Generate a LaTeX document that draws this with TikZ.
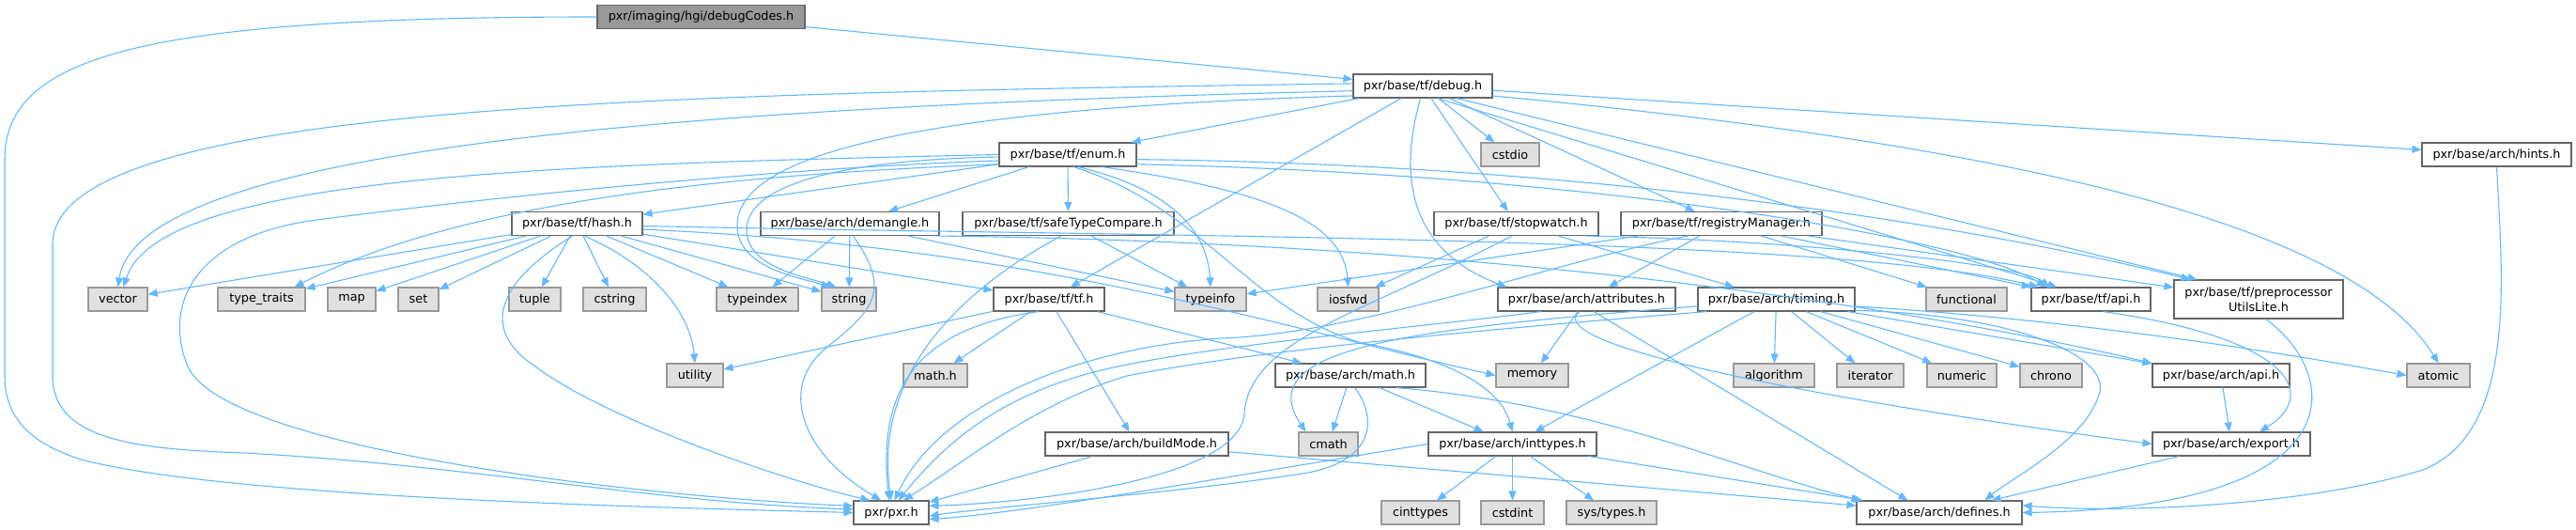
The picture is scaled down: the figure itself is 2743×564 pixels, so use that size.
\documentclass[tikz,border=0pt]{standalone}
\usepackage{fontspec}
\setmainfont{DejaVu Sans}
\usetikzlibrary{arrows.meta,calc}
\definecolor{edgec}{HTML}{63B8FF}
\definecolor{bordc}{HTML}{666666}
\definecolor{extb}{HTML}{999999}
\definecolor{extf}{HTML}{E0E0E0}
\definecolor{rootf}{HTML}{999999}
\newcommand\dxfont{\fontsize{12.8pt}{15.5pt}\selectfont}
\tikzset{
  box/.style={draw=bordc, fill=white, line width=1.1pt, minimum height=25pt, inner xsep=1pt, inner ysep=0pt, font=\dxfont, text=black},
  ext/.style={box, draw=extb, fill=extf},
  rootbox/.style={box, fill=rootf, draw=bordc},
  e/.style={draw=edgec, line width=1.1pt, -{Triangle[length=10pt,width=8pt,fill=edgec]}}
}
\begin{document}
\begin{tikzpicture}[x=1pt,y=-1pt]
\useasboundingbox (0,0) rectangle (2743,564);
% row 0
\node[rootbox, minimum width=221pt] (dc) at (746.5,18) {pxr/imaging/hgi/debugCodes.h};
% row 1
\node[box, minimum width=148pt] (debug) at (1515,91.5) {pxr/base/tf/debug.h};
% row 2
\node[box, minimum width=146pt] (enum) at (1137,164.5) {pxr/base/tf/enum.h};
\node[ext, minimum width=62pt] (cstdio) at (1608,164.5) {cstdio};
\node[box, minimum width=159pt] (hints) at (2658.5,164.5) {pxr/base/arch/hints.h};
% row 3
\node[box, minimum width=139pt] (hash) at (614.5,238) {pxr/base/tf/hash.h};
\node[box, minimum width=190pt] (demangle) at (905,238) {pxr/base/arch/demangle.h};
\node[box, minimum width=225pt] (safeType) at (1137.5,238) {pxr/base/tf/safeTypeCompare.h};
\node[box, minimum width=175pt] (stopwatch) at (1614.5,238) {pxr/base/tf/stopwatch.h};
\node[box, minimum width=214pt] (registry) at (1833,238) {pxr/base/tf/registryManager.h};
% row 4
\node[ext, minimum width=63pt] (vector) at (125.5,318.5) {vector};
\node[ext, minimum width=93pt] (typetraits) at (278.5,318.5) {type\_traits};
\node[ext, minimum width=51pt] (map) at (374.5,318.5) {map};
\node[ext, minimum width=43pt] (set) at (445.5,318.5) {set};
\node[ext, minimum width=55pt] (tuple) at (569.5,318.5) {tuple};
\node[ext, minimum width=67pt] (cstring) at (654.5,318.5) {cstring};
\node[ext, minimum width=87pt] (typeindex) at (806.5,318.5) {typeindex};
\node[ext, minimum width=58pt] (string) at (904,318.5) {string};
\node[box, minimum width=118pt] (tf) at (1117,318.5) {pxr/base/tf/tf.h};
\node[ext, minimum width=76pt] (typeinfo) at (1289,318.5) {typeinfo};
\node[ext, minimum width=65pt] (iosfwd) at (1435.5,318.5) {iosfwd};
\node[box, minimum width=189pt] (attributes) at (1689.5,318.5) {pxr/base/arch/attributes.h};
\node[box, minimum width=167pt] (timing) at (1891.5,318.5) {pxr/base/arch/timing.h};
\node[ext, minimum width=86pt] (functional) at (2094,318.5) {functional};
\node[box, minimum width=127pt] (tfapi) at (2226.5,318.5) {pxr/base/tf/api.h};
\node[box, minimum width=180pt, minimum height=41pt, align=center] (preproc) at (2405,318.5) {pxr/base/tf/preprocessor\\UtilsLite.h};
% row 5
\node[ext, minimum width=60pt] (utility) at (740,399.5) {utility};
\node[ext, minimum width=68pt] (mathh) at (996,399.5) {math.h};
\node[box, minimum width=160pt] (archmath) at (1438,399.5) {pxr/base/arch/math.h};
\node[ext, minimum width=77pt] (memory) at (1631.5,399.5) {memory};
\node[ext, minimum width=86pt] (algorithm) at (1889,399.5) {algorithm};
\node[ext, minimum width=71pt] (iterator) at (1991.5,399.5) {iterator};
\node[ext, minimum width=74pt] (numeric) at (2089,399.5) {numeric};
\node[ext, minimum width=66pt] (chrono) at (2184,399.5) {chrono};
\node[box, minimum width=146pt] (archapi) at (2365,399.5) {pxr/base/arch/api.h};
\node[ext, minimum width=67pt] (atomic) at (2596.5,399.5) {atomic};
% row 6
\node[box, minimum width=195pt] (buildMode) at (1210.5,472.5) {pxr/base/arch/buildMode.h};
\node[ext, minimum width=63pt] (cmath) at (1414.5,472.5) {cmath};
\node[box, minimum width=179pt] (inttypes) at (1610.5,472.5) {pxr/base/arch/inttypes.h};
\node[box, minimum width=168pt] (export) at (2376,472.5) {pxr/base/arch/export.h};
% row 7
\node[box, minimum width=80pt] (pxr) at (949,545.5) {pxr/pxr.h};
\node[ext, minimum width=83pt] (cinttypes) at (1512.5,545.5) {cinttypes};
\node[ext, minimum width=67pt] (cstdint) at (1610.5,545.5) {cstdint};
\node[ext, minimum width=96pt] (systypes) at (1716,545.5) {sys/types.h};
\node[box, minimum width=176pt] (defines) at (2065,545.5) {pxr/base/arch/defines.h};

% ---- edges: debugCodes
\draw[e] (dc) -- (debug);
\draw[e] (dc.west) .. controls (150,18) and (5,60) .. (5,170) -- (5,400) .. controls (5,450) and (40,475) .. (90,490) .. controls (250,530) and (700,540) .. (pxr.180);
% ---- debug
\draw[e] (debug.178) .. controls (700,100) and (56,110) .. (56,260) -- (56,400) .. controls (56,470) and (150,478) .. (260,482) .. controls (500,495) and (700,535) .. (pxr.175);
\draw[e] (debug.184) .. controls (800,112) and (150,150) .. (vector.north);
\draw[e] (debug.188) .. controls (1000,115) and (785,160) .. (785,240) .. controls (785,285) and (850,295) .. ($(string.north west)+(10,0)$);
\draw[e] (debug) -- (enum);
\draw[e] (debug) -- (tf);
\draw[e] (debug) -- (cstdio);
\draw[e] (debug) -- (stopwatch);
\draw[e] (debug) -- (registry);
\draw[e] (debug.-100) .. controls (1485,200) and (1510,270) .. ($(attributes.north west)+(10,0)$);
\draw[e] (debug.-8) .. controls (2100,150) and (2500,230) .. (atomic.north);
\draw[e] (debug) -- (hints);
\draw[e] (debug.-20) -- ($(preproc.north west)+(25,0)$);
\draw[e] (debug.-40) -- ($(tfapi.north west)+(28,0)$);
% ---- enum
\draw[e] (enum) -- (hash);
\draw[e] (enum) -- (demangle);
\draw[e] (enum) -- (safeType);
\draw[e] (enum.-50) .. controls (1240,200) and (1285,240) .. (typeinfo.north);
\draw[e] (enum.-20) .. controls (1330,200) and (1430,230) .. (iosfwd.north);
\draw[e] (enum.-65) .. controls (1280,220) and (1330,330) .. (1450,365) .. controls (1560,385) and (1600,420) .. (inttypes.north);
\draw[e] (enum.180) .. controls (600,175) and (170,185) .. ($(vector.north)+(6,0)$);
\draw[e] (enum.188) .. controls (800,185) and (500,210) .. ($(typetraits.north east)+(-12,0)$);
\draw[e] (enum.185) .. controls (800,180) and (480,215) .. (330,235) .. controls (200,255) and (175,330) .. (200,390) .. controls (240,480) and (700,530) .. (pxr.170);
\draw[e] (enum.182) .. controls (900,170) and (795,195) .. (795,245) .. controls (795,285) and (860,295) .. ($(string.north west)+(16,0)$);
\draw[e] (enum.-4) .. controls (1700,175) and (2100,240) .. ($(preproc.north west)+(18,0)$);
\draw[e] (enum.-8) .. controls (1700,185) and (2100,255) .. ($(tfapi.north west)+(16,0)$);
% ---- hash
\draw[e] (hash) -- (vector);
\draw[e] (hash) -- (typetraits);
\draw[e] (hash) -- (map);
\draw[e] (hash) -- (set);
\draw[e] (hash) -- (tuple);
\draw[e] (hash) -- (cstring);
\draw[e] (hash) -- (typeindex);
\draw[e] (hash) -- (string);
\draw[e] (hash) -- (tf);
\draw[e] (hash.-60) .. controls (690,280) and (735,330) .. (utility.north);
\draw[e] (hash.-110) .. controls (530,300) and (510,350) .. (570,390) .. controls (650,450) and (850,515) .. (pxr.150);
\draw[e] (hash.-5) .. controls (1100,262) and (1350,345) .. (memory.west);
\draw[e] (hash.-2) .. controls (1200,252) and (1950,250) .. ($(tfapi.north west)+(8,0)$);
% ---- demangle
\draw[e] (demangle) -- (typeindex);
\draw[e] (demangle) -- (string);
\draw[e] (demangle) -- (typeinfo);
\draw[e] (demangle.-75) .. controls (950,310) and (930,330) .. (880,370) .. controls (830,410) and (850,480) .. (pxr.130);
\draw[e] (demangle.-8) .. controls (1600,258) and (2050,330) .. (archapi.north west);
% ---- safeTypeCompare
\draw[e] (safeType) -- (typeinfo);
\draw[e] (safeType.-120) .. controls (1020,310) and (930,400) .. (pxr.north);
% ---- tf
\draw[e] (tf) -- (utility);
\draw[e] (tf) -- (mathh);
\draw[e] (tf) -- (buildMode);
\draw[e] (tf) -- (archmath);
\draw[e] (tf.-130) .. controls (970,350) and (935,420) .. (pxr.100);
% ---- stopwatch
\draw[e] (stopwatch) -- (iosfwd);
\draw[e] (stopwatch) -- (timing);
\draw[e] (stopwatch.-10) .. controls (1900,255) and (2150,280) .. ($(tfapi.north west)+(20,0)$);
\draw[e] (stopwatch.-110) .. controls (1460,330) and (1330,360) .. (1325,440) .. controls (1320,510) and (1100,535) .. (pxr.10);
% ---- registryManager
\draw[e] (registry) -- (typeinfo);
\draw[e] (registry) -- (attributes);
\draw[e] (registry) -- (functional);
\draw[e] (registry) -- (tfapi);
\draw[e] (registry) -- (preproc);
\draw[e] (registry.-160) .. controls (1650,280) and (1450,355) .. (1300,360) .. controls (1150,370) and (1000,430) .. (pxr.75);
% ---- attributes
\draw[e] (attributes) -- (memory);
\draw[e] (attributes.-60) -- ($(defines.north west)+(55,0)$);
\draw[e] (attributes.-120) .. controls (1640,365) and (1900,420) .. (export.west);
\draw[e] (attributes.-165) .. controls (1500,350) and (1250,370) .. (1150,400) .. controls (1050,430) and (1000,480) .. (pxr.60);
% ---- timing
\draw[e] (timing) -- (inttypes);
\draw[e] (timing) -- (algorithm);
\draw[e] (timing) -- (iterator);
\draw[e] (timing) -- (numeric);
\draw[e] (timing) -- (chrono);
\draw[e] (timing) -- (archapi);
\draw[e] (timing.-5) .. controls (2200,340) and (2400,370) .. (atomic.west);
\draw[e] (timing.-8) .. controls (2150,335) and (2250,380) .. (2235,420) .. controls (2220,470) and (2140,510) .. ($(defines.north east)+(-40,0)$);
\draw[e] (timing.-170) .. controls (1650,345) and (1350,370) .. (1200,400) .. controls (1100,430) and (1030,490) .. (pxr.45);
\draw[e] (timing.-175) .. controls (1500,350) and (1330,370) .. ($(cmath.north west)+(8,0)$);
% ---- arch math
\draw[e] (archmath) -- (cmath);
\draw[e] (archmath) -- (inttypes);
\draw[e] (archmath.-15) .. controls (1700,430) and (1850,500) .. ($(defines.north west)+(5,0)$);
\draw[e] (archmath.-70) .. controls (1470,450) and (1460,495) .. (1380,505) .. controls (1250,525) and (1050,540) .. (pxr.-5);
% ---- inttypes
\draw[e] (inttypes) -- (cinttypes);
\draw[e] (inttypes) -- (cstdint);
\draw[e] (inttypes) -- (systypes);
\draw[e] (inttypes) -- (defines);
\draw[e] (inttypes.west) .. controls (1350,500) and (1100,545) .. (pxr.-10);
% ---- buildMode
\draw[e] (buildMode) -- (pxr);
\draw[e] (buildMode) -- (defines);
% ---- apis, export, defines
\draw[e] (tfapi.-45) .. controls (2440,360) and (2470,420) .. ($(export.north)+(30,0)$);
\draw[e] (archapi) -- (export);
\draw[e] (export) -- (defines);
\draw[e] (preproc.-70) .. controls (2495,400) and (2510,540) .. (defines.east);
\draw[e] (hints.south) .. controls (2665,300) and (2680,460) .. (2580,500) .. controls (2450,540) and (2250,546) .. (defines.5);
\end{tikzpicture}
\end{document}
